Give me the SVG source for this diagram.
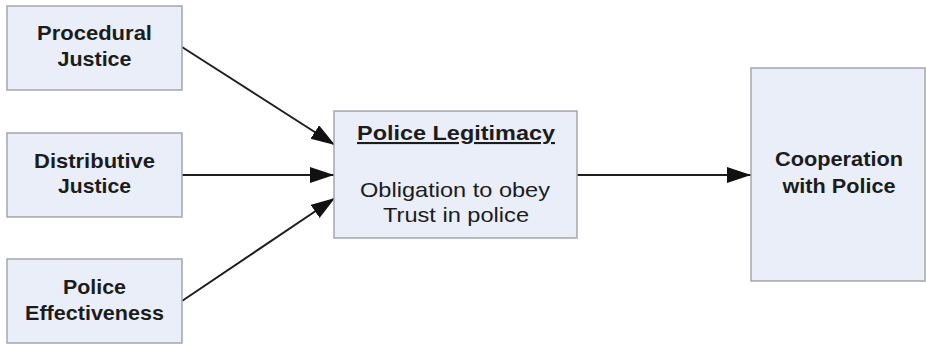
<svg xmlns="http://www.w3.org/2000/svg" width="926" height="344" viewBox="0 0 926 344">
  <style>
    .box { fill: #e9eef8; stroke: #a3a6ad; stroke-width: 1.5; }
    .lbl { font-family: "Liberation Sans", Arial, sans-serif; font-size: 21px; font-weight: bold; fill: #1c1c1c; text-anchor: middle; }
    .reg { font-family: "Liberation Sans", Arial, sans-serif; font-size: 21px; fill: #1c1c1c; text-anchor: middle; }
    .edge { stroke: #1e1e1e; stroke-width: 2; fill: none; marker-end: url(#arrow); }
  </style>
  <defs>
    <marker id="arrow" markerUnits="userSpaceOnUse" markerWidth="26" markerHeight="18" refX="24" refY="8" orient="auto">
      <path d="M0,0 L24,8 L0,16 Z" fill="#111"/>
    </marker>
  </defs>

  <rect width="926" height="344" fill="#ffffff"/>

  <g id="connectors">
    <line class="edge" x1="182" y1="47" x2="335" y2="145"/>
    <line class="edge" x1="182" y1="175" x2="334" y2="175"/>
    <line class="edge" x1="182" y1="301" x2="335" y2="198"/>
    <line class="edge" x1="577" y1="175" x2="751" y2="175"/>
  </g>

  <g id="procedural-justice">
    <rect class="box" x="7" y="6" width="175" height="84"/>
    <text class="lbl" x="94.5" y="40" textLength="115" lengthAdjust="spacingAndGlyphs">Procedural</text>
    <text class="lbl" x="94.5" y="66" textLength="74" lengthAdjust="spacingAndGlyphs">Justice</text>
  </g>

  <g id="distributive-justice">
    <rect class="box" x="7" y="133" width="175" height="84"/>
    <text class="lbl" x="94.5" y="168" textLength="121" lengthAdjust="spacingAndGlyphs">Distributive</text>
    <text class="lbl" x="94.5" y="193" textLength="73" lengthAdjust="spacingAndGlyphs">Justice</text>
  </g>

  <g id="police-effectiveness">
    <rect class="box" x="7" y="259" width="175" height="84"/>
    <text class="lbl" x="94.5" y="294" textLength="63" lengthAdjust="spacingAndGlyphs">Police</text>
    <text class="lbl" x="94.5" y="320" textLength="139" lengthAdjust="spacingAndGlyphs">Effectiveness</text>
  </g>

  <g id="police-legitimacy">
    <rect class="box" x="334" y="111" width="243" height="127"/>
    <text class="lbl" x="456" y="140" textLength="198" lengthAdjust="spacingAndGlyphs" text-decoration="underline">Police Legitimacy</text>
    <text class="reg" x="455" y="197" textLength="190" lengthAdjust="spacingAndGlyphs">Obligation to obey</text>
    <text class="reg" x="456" y="222" textLength="146" lengthAdjust="spacingAndGlyphs">Trust in police</text>
  </g>

  <g id="cooperation">
    <rect class="box" x="751" y="68" width="174" height="213"/>
    <text class="lbl" x="839" y="166" textLength="128" lengthAdjust="spacingAndGlyphs">Cooperation</text>
    <text class="lbl" x="839" y="193" textLength="113" lengthAdjust="spacingAndGlyphs">with Police</text>
  </g>
</svg>
